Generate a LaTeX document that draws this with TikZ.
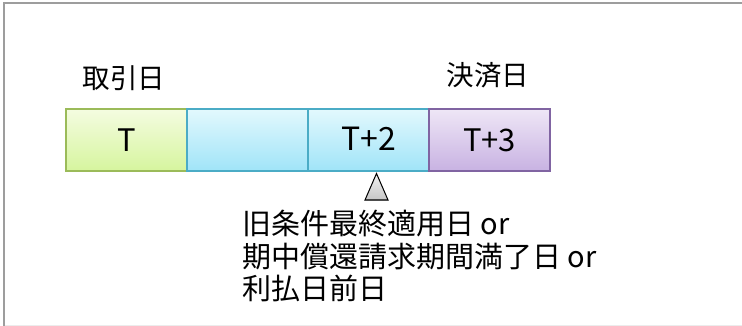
\documentclass[tikz,border=0pt]{standalone}
\usepackage{fontspec}
\setmainfont{Noto Sans CJK JP}
\begin{document}
\begin{tikzpicture}[x=1pt,y=-1pt,
  daybox/.style={draw, line width=2pt, minimum width=121pt, minimum height=61.5pt, inner sep=0pt, anchor=north west, text=black},
  greenbox/.style={daybox, draw={rgb,255:red,155;green,187;blue,89}, top color={rgb,255:red,244;green,252;blue,224}, bottom color={rgb,255:red,214;green,245;blue,158}},
  bluebox/.style={daybox, draw={rgb,255:red,75;green,172;blue,198}, top color={rgb,255:red,226;green,248;blue,253}, bottom color={rgb,255:red,160;green,228;blue,248}},
  purplebox/.style={daybox, draw={rgb,255:red,128;green,100;blue,162}, top color={rgb,255:red,238;green,230;blue,246}, bottom color={rgb,255:red,200;green,178;blue,226}},
  lbl/.style={inner sep=0pt, font=\fontsize{27.5pt}{32pt}\selectfont},
  note/.style={inner sep=0pt, anchor=base west, font=\fontsize{29pt}{32pt}\selectfont},
]
\useasboundingbox (0,0) rectangle (742,326);
\fill[white] (0,0) rectangle (742,326);
% frame
\draw[line width=1pt, gray!15] (5,325) -- (742,325);
\draw[line width=2pt, gray!90!black!70] (4,326) -- (4,3) -- (742,3);
% boxes
\node[greenbox, font=\fontsize{31pt}{34pt}\selectfont] (t0) at (65,108.5) {T};
\node[bluebox] (t1) at (186,108.5) {};
\node[bluebox, font=\fontsize{32pt}{34pt}\selectfont] (t2) at (307,108.5) {\raisebox{2.5pt}{T+2}};
\node[purplebox, font=\fontsize{31pt}{34pt}\selectfont] (t3) at (428,108.5) {T+3};
% labels
\node[lbl] (trade) at (124,78.3) {取引日};
\node[lbl] (settle) at (488,75.3) {決済日};
% triangle
\filldraw[draw=black, line width=1pt, top color=gray!10, bottom color=gray!45] (376.5,173.5) -- (388,200) -- (365,200) -- cycle;
\coordinate (tri) at (376.5,200);
% lower text
\node[note] (n1) at (242,234.5) {旧条件最終適用日 or};
\node[note] (n2) at (242,267) {期中償還請求期間満了日 or};
\node[note] (n3) at (242,299.5) {利払日前日};
\end{tikzpicture}
\end{document}
